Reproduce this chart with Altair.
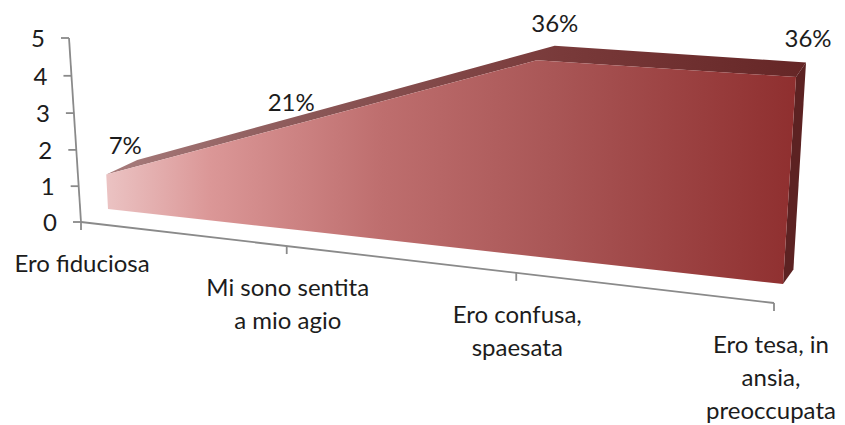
import altair as alt
import numpy as np
import pandas as pd

# ---- data ----
categories = ["Ero fiduciosa", "Mi sono sentita\na mio agio", "Ero confusa,\nspaesata", "Ero tesa, in\nansia,\npreoccupata"]
values = [1, 3, 5, 5]
total = 14
y_ticks = [0, 1, 2, 3, 4, 5]

# ---- perspective of the 3-D view (page pixels of the corners of the planes) ----
W, H = 829, 416


def homography(corners):
    src = [(0, 0), (3, 0), (3, 5), (0, 5)]
    A, b = [], []
    for (u, v), (x, y) in zip(src, corners):
        A.append([u, v, 1, 0, 0, 0, -u * x, -v * x])
        A.append([0, 0, 0, u, v, 1, -u * y, -v * y])
        b += [x, y]
    h = np.linalg.solve(np.array(A, float), np.array(b, float))
    return np.append(h, 1).reshape(3, 3)


FRONT = homography([(108, 209), (783, 284), (796, 77), (99, 32)])
WALL = homography([(81, 222), (774, 303), (788, 87), (69, 38)])


def project(M, u, v):
    p = M @ np.array([u, v, 1.0])
    return float(p[0] / p[2]), float(p[1] / p[2])


def front(u, v):
    return project(FRONT, u, v)


def back(u, v):
    x, y = front(u, v)
    t = (x - 106) / (796 - 106)
    return x + 31 + (10 - 31) * t, y - 14.5


def polygon(points):
    pts = list(points) + [points[0]]
    return pd.DataFrame({"x": [p[0] for p in pts], "y": [p[1] for p in pts], "o": range(len(pts))})


idx = range(len(values))
top_front = [front(i, values[i]) for i in idx]
top_back = [back(i, values[i]) for i in idx]
base_front = [front(i, 0) for i in idx]

front_df = polygon(top_front + base_front[::-1])
top_df = polygon(top_front + top_back[::-1])
side_df = polygon([top_front[3], top_back[3], back(3, 0), base_front[3]])

x_scale = alt.Scale(domain=[8, 8 + W], nice=False, zero=False)
y_scale = alt.Scale(domain=[8 + H, 8], nice=False, zero=False)
X = alt.X("x:Q", scale=x_scale, axis=None)
Y = alt.Y("y:Q", scale=y_scale, axis=None)


def face(df, fill):
    return alt.Chart(df).mark_line(filled=True, fill=fill, stroke=None, strokeWidth=0, interpolate="linear").encode(
        x=X, y=Y, order=alt.Order("o:Q"))


def grad(stops):
    return alt.Gradient(gradient="linear", x1=0, x2=1, y1=0, y2=0,
                        stops=[alt.GradientStop(offset=o, color=c) for o, c in stops])


front_fill = grad([(0, "#EBC3C3"), (0.15, "#DB9797"), (0.4, "#BE6E6E"), (0.65, "#A95656"), (1, "#8F2F2F")])
top_fill = grad([(0, "#A77C7C"), (0.3, "#8A5656"), (0.65, "#793A3A"), (1, "#652626")])

# ---- axes ----
AX = "#8A8A8A"
wall0, wall5 = project(WALL, 0, 0), project(WALL, 0, 5)
floor3 = project(WALL, 3, 0)
axis_df = pd.DataFrame({"x": [wall0[0], wall0[0]], "y": [wall0[1], wall0[1]],
                        "x2": [wall5[0], floor3[0]], "y2": [wall5[1], floor3[1]]})

yt = [project(WALL, 0, v) for v in y_ticks]
ytick_df = pd.DataFrame({"x": [p[0] - 8 for p in yt], "x2": [p[0] for p in yt],
                         "y": [p[1] for p in yt], "y2": [p[1] for p in yt],
                         "label": [str(v) for v in y_ticks]})
ytick_df["lx"] = ytick_df["x"] - 16
ytick_df["ly"] = ytick_df["y"] + 2

label_shift = [1, 1, 1, -3]
xt = [project(WALL, i, 0) for i in idx]
xtick_df = pd.DataFrame({"x": [p[0] for p in xt], "x2": [p[0] for p in xt],
                         "y": [p[1] for p in xt], "y2": [p[1] + 8 for p in xt],
                         "label": categories})
xtick_df["ly"] = xtick_df["y"] + 31
xtick_df["lx"] = xtick_df["x"] + label_shift

def rule(df):
    return alt.Chart(df).mark_rule(color=AX, strokeWidth=1.8).encode(x=X, y=Y, x2="x2:Q", y2="y2:Q")

FONT = "Lato"
TXT = "#1C1C1C"
SIZE = 24
ylabels = alt.Chart(ytick_df).mark_text(font=FONT, fontSize=SIZE, color=TXT, align="right", baseline="middle").encode(
    x=alt.X("lx:Q", scale=x_scale, axis=None), y=alt.Y("ly:Q", scale=y_scale, axis=None), text="label:N")
xlabels = alt.Chart(xtick_df).mark_text(font=FONT, fontSize=SIZE, color=TXT, align="center", baseline="top",
                                        lineBreak="\n", lineHeight=33).encode(
    x=alt.X("lx:Q", scale=x_scale, axis=None), y=alt.Y("ly:Q", scale=y_scale, axis=None), text="label:N")

# data labels, each nudged from its peak by hand as in the original
nudge_x = [19, -16, 18, 12]
nudge_y = [-27, -17, -35, -37]
pct_df = pd.DataFrame({
    "x": [p[0] + n for p, n in zip(top_front, nudge_x)],
    "y": [p[1] + n for p, n in zip(top_front, nudge_y)],
    "label": [f"{round(v / total * 100)}%" for v in values],
})
pct = alt.Chart(pct_df).mark_text(font=FONT, fontSize=SIZE, color=TXT, align="center", baseline="middle").encode(
    x=X, y=Y, text="label:N")

chart = alt.layer(
    rule(axis_df), rule(ytick_df), rule(xtick_df),
    face(top_df, top_fill), face(side_df, "#5C2222"), face(front_df, front_fill),
    ylabels, xlabels, pct,
).properties(width=W, height=H, padding=0, autosize=alt.AutoSizeParams(type="none")).configure_view(stroke=None)

chart.save("out.html", embed_options={"renderer": "svg", "actions": False})
